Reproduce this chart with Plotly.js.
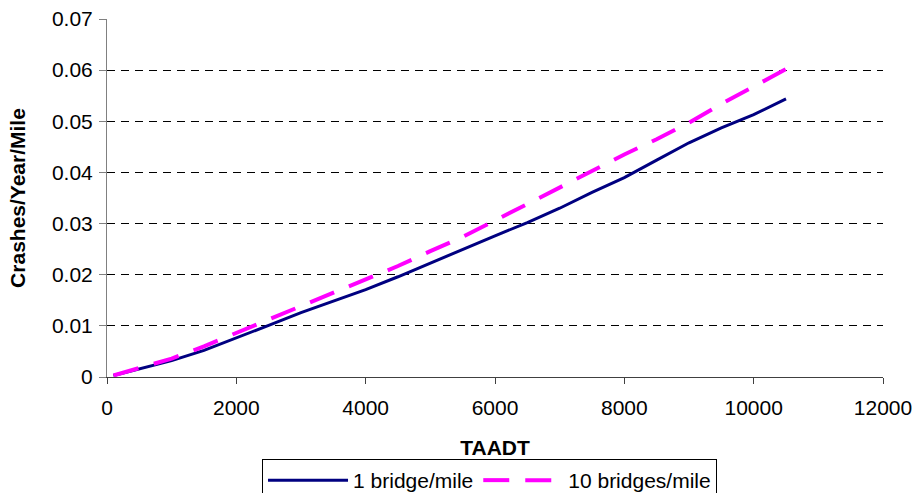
<!DOCTYPE html>
<html>
<head>
<meta charset="utf-8">
<script src="https://cdn.plot.ly/plotly-3.0.1.min.js"></script>
<style>html,body{margin:0;padding:0;background:#fff;}#chart{width:915px;height:493px;}</style>
</head>
<body>
<div id="chart"></div>
<script>
const taadt = [100, 500, 1000, 1500, 2000, 2500, 3000, 3500, 4000, 4500, 5000, 5500, 6000, 6500, 7000, 7500, 8000, 8500, 9000, 9500, 10000, 10500];
const oneBridge = [0.0003, 0.0016, 0.0032, 0.0052, 0.0076, 0.0101, 0.0126, 0.0149, 0.0171, 0.0196, 0.0223, 0.0250, 0.0276, 0.0302, 0.0330, 0.0361, 0.0390, 0.0424, 0.0458, 0.0487, 0.0513, 0.0544];
const tenBridges = [0.0003, 0.0018, 0.0036, 0.0060, 0.0086, 0.0112, 0.0139, 0.0164, 0.0190, 0.0217, 0.0246, 0.0274, 0.0306, 0.0338, 0.0370, 0.0404, 0.0435, 0.0465, 0.0497, 0.0534, 0.0567, 0.0602];
const seriesNames = ['1 bridge/mile', '10 bridges/mile'];
const xTitle = 'TAADT';
const yTitle = 'Crashes/Year/Mile';

const font = 'Liberation Sans, Arial, sans-serif';
const traces = [
  {x: taadt, y: oneBridge, name: seriesNames[0], type: 'scatter', mode: 'lines',
   line: {color: '#000080', width: 3}},
  {x: taadt, y: tenBridges, name: seriesNames[1], type: 'scatter', mode: 'lines',
   line: {color: '#FF00FF', width: 4, dash: '26px,16px'}}
];
const layout = {
  width: 915, height: 493,
  margin: {l: 107, r: 32, t: 19, b: 116, autoexpand: false},
  paper_bgcolor: '#fff', plot_bgcolor: '#fff',
  font: {family: font, size: 21, color: '#000'},
  showlegend: true,
  xaxis: {
    range: [0, 12000], dtick: 2000, tick0: 0, tickformat: 'd',
    showline: true, linecolor: '#404040', linewidth: 1,
    ticks: 'outside', ticklen: 6, tickcolor: '#404040', ticklabelstandoff: 6,
    showgrid: false, zeroline: false, automargin: false,
    tickfont: {size: 21},
    title: {text: '<b>' + xTitle + '</b>', font: {size: 21}, standoff: 29}
  },
  yaxis: {
    range: [0, 0.07], dtick: 0.01, tick0: 0,
    showline: true, linecolor: '#808080', linewidth: 1,
    ticks: 'outside', ticklen: 7, tickcolor: '#808080', ticklabelstandoff: 2,
    showgrid: true, gridcolor: '#000', gridwidth: 1, griddash: '8px,6px',
    zeroline: false, automargin: false,
    tickfont: {size: 21},
    title: {text: '<b>' + yTitle + '</b>', font: {size: 21}, standoff: 20}
  },
  legend: {
    orientation: 'h', x: 0.535, xref: 'container', xanchor: 'center',
    y: 0.069, yref: 'container', yanchor: 'top',
    bordercolor: '#000', borderwidth: 1, bgcolor: '#fff',
    font: {size: 21}, itemwidth: 80, tracegroupgap: 0
  }
};
Plotly.newPlot('chart', traces, layout, {displayModeBar: false, staticPlot: true});
</script>
</body>
</html>
